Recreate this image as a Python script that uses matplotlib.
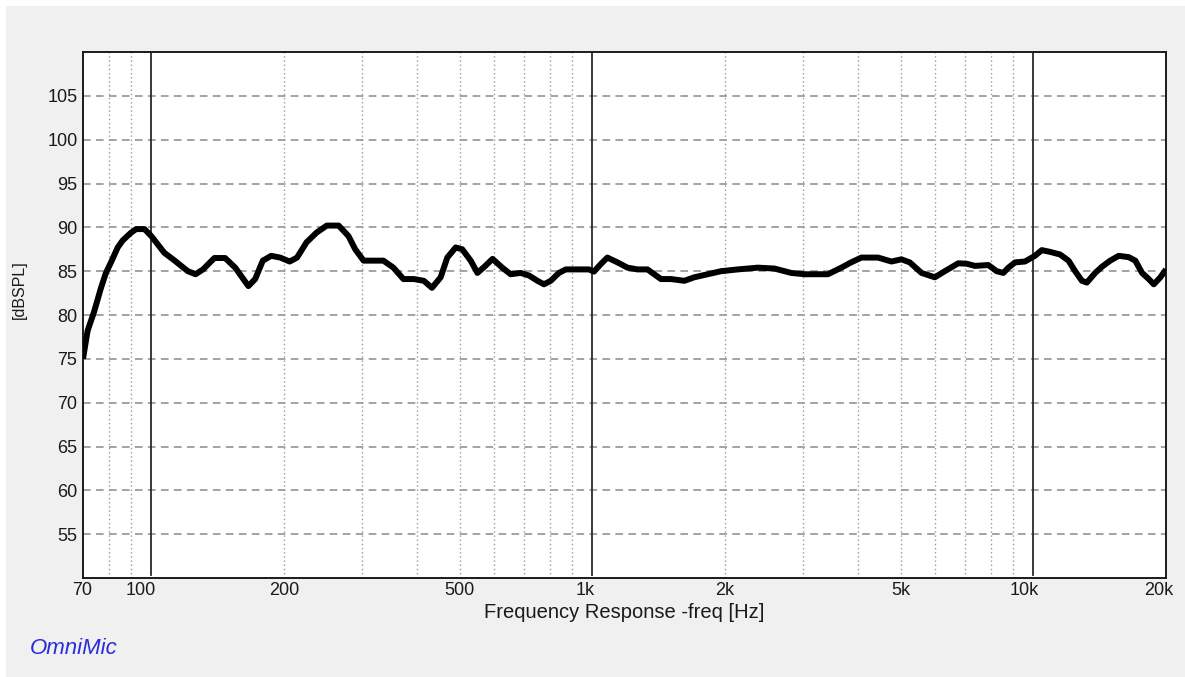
import matplotlib
matplotlib.use('Agg')
import matplotlib.pyplot as plt
import matplotlib.transforms as mtransforms
from matplotlib.patches import Rectangle

# frequency response
freq = [70, 71.7, 74.2, 76.9, 78.9, 81.0, 83.9, 86.1, 90.0, 92.4,
        96.5, 100, 107, 113, 121, 126, 131, 139, 147, 155,
        166, 172, 179, 187, 196, 206, 214, 225, 237, 250,
        266, 280, 290, 303, 336, 354, 373, 394, 415, 433,
        453, 469, 490, 507, 530, 549, 572, 594, 625, 653,
        688, 719, 751, 777, 805, 840, 871, 925, 983, 1009,
        1045, 1082, 1141, 1202, 1267, 1334, 1431, 1508, 1617, 1703,
        1827, 1960, 2138, 2374, 2588, 2825, 3028, 3423, 3671, 3862,
        4076, 4447, 4769, 5024, 5248, 5580, 5980, 6303, 6761, 7063,
        7374, 7909, 8260, 8554, 8782, 9094, 9574, 10090, 10455, 10920,
        11506, 12023, 12445, 12893, 13230, 13818, 14311, 14944, 15617, 16462,
        17040, 17649, 18277, 18763, 19423, 20000]
spl = [75.0, 78.2, 80.4, 83.1, 84.8, 86.0, 87.7, 88.5, 89.4, 89.8,
       89.8, 89.0, 87.1, 86.2, 85.0, 84.65, 85.2, 86.5, 86.5, 85.4,
       83.3, 84.1, 86.2, 86.75, 86.55, 86.1, 86.55, 88.3, 89.4, 90.2,
       90.2, 89.0, 87.5, 86.2, 86.2, 85.4, 84.1, 84.1, 83.9, 83.1,
       84.3, 86.55, 87.7, 87.5, 86.2, 84.8, 85.6, 86.4, 85.4, 84.65,
       84.8, 84.5, 83.9, 83.5, 83.9, 84.8, 85.2, 85.2, 85.2, 84.95,
       85.8, 86.55, 86.0, 85.4, 85.2, 85.2, 84.1, 84.1, 83.9, 84.3,
       84.65, 85.0, 85.2, 85.4, 85.3, 84.8, 84.65, 84.65, 85.4, 86.0,
       86.55, 86.55, 86.1, 86.35, 86.0, 84.8, 84.3, 85.0, 85.9, 85.85,
       85.6, 85.7, 85.0, 84.8, 85.4, 86.0, 86.1, 86.75, 87.4, 87.2,
       86.9, 86.2, 85.0, 83.9, 83.7, 84.8, 85.5, 86.2, 86.75, 86.6,
       86.2, 84.8, 84.1, 83.5, 84.3, 85.2]

y_ticks = [55, 60, 65, 70, 75, 80, 85, 90, 95, 100, 105]
x_ticks = [70, 100, 200, 500, 1000, 2000, 5000, 10000, 20000]
x_labels = ['70', '100', '200', '500', '1k', '2k', '5k', '10k', '20k']
minor_grid = [80, 90, 200, 300, 400, 500, 600, 700, 800, 900,
              2000, 3000, 4000, 5000, 6000, 7000, 8000, 9000]
decades = [100, 1000, 10000]

# the app draws some decade labels a bit left of their line (pixels)
label_nudge = {'70': -1, '100': -11, '1k': -7, '10k': -9, '20k': -7}

font = 'Liberation Sans'
tick_size = 13
text_col = '#1a1a1a'

fig = plt.figure(figsize=(11.85, 6.77), dpi=100, facecolor='white')
fig.patches.append(Rectangle((6 / 1185, 0), 1, 1 - 6 / 677, transform=fig.transFigure,
                             facecolor='#f0f0f0', edgecolor='none', zorder=-10))

ax = fig.add_axes([83 / 1185, 1 - 578 / 677, (1166 - 83) / 1185, (578 - 52) / 677])
ax.set_facecolor('white')
ax.set_xscale('log')
ax.set_xlim(70, 20000)
ax.set_ylim(50, 110)

for y in y_ticks:
    ax.axhline(y, color='#8a8a8a', lw=1.1, ls=(0, (5, 3.5)), zorder=1)
for x in minor_grid:
    ax.axvline(x, color='#9a9a9a', lw=1.0, ls=(0, (1, 2.0)), zorder=1)
for x in decades:
    ax.axvline(x, ymin=0.005, color='#2a2a2a', lw=1.3, zorder=2)

ax.plot(freq, spl, color='black', lw=4.3, solid_joinstyle='round',
        solid_capstyle='butt', zorder=3)

ax.set_yticks(y_ticks)
ax.set_yticklabels([str(v) for v in y_ticks], fontsize=tick_size, family=font, color=text_col)
ax.tick_params(axis='y', length=0, pad=4)
ax.set_xticks([])
ax.xaxis.set_minor_locator(matplotlib.ticker.NullLocator())

base = ax.get_xaxis_transform()
for x, lab in zip(x_ticks, x_labels):
    off = mtransforms.ScaledTranslation(label_nudge.get(lab, 0) / 100, 0, fig.dpi_scale_trans)
    ax.text(x, -0.007, lab, transform=base + off, ha='center', va='top',
            fontsize=tick_size, family=font, color=text_col)

for s in ax.spines.values():
    s.set_color(text_col)
    s.set_linewidth(1.4)

fig.text(624 / 1185, 1 - 612 / 677, 'Frequency Response -freq [Hz]', ha='center', va='center',
         fontsize=14.5, family=font, color=text_col)
fig.text(19 / 1185, 1 - 290 / 677, '[dBSPL]', ha='center', va='center', rotation=90,
         fontsize=11.5, family=font, color=text_col)
fig.text(30 / 1185, 1 - 648 / 677, 'OmniMic', ha='left', va='center', style='italic',
         fontsize=16, family=font, color='#2b2bd9')

fig.savefig('out.png', dpi=100, facecolor=fig.get_facecolor())
